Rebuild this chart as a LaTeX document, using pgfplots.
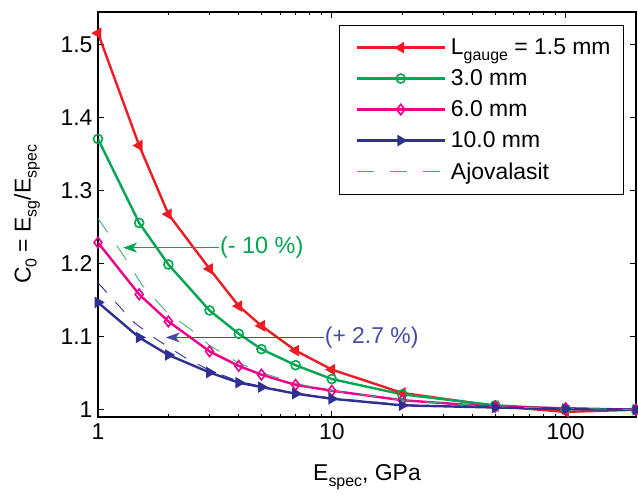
\documentclass[border=0pt]{standalone}
\usepackage{pgfplots}
\pgfplotsset{compat=1.18}
\usepackage{fontspec}
\setmainfont{Liberation Sans}
\usetikzlibrary{arrows.meta,calc}
\definecolor{cred}{RGB}{237,28,36}
\definecolor{cgreen}{RGB}{0,166,81}
\definecolor{cmag}{RGB}{236,0,140}
\definecolor{cblue}{RGB}{46,49,146}
\definecolor{cdgreen}{RGB}{60,180,110}
\definecolor{cablue}{RGB}{70,74,165}
\newcommand{\sub}[1]{\raisebox{-0.5ex}{\fontsize{16}{16}\selectfont #1}}
\begin{document}
\begin{tikzpicture}
\begin{axis}[
  scale only axis, width=538bp, height=405bp,
  xmode=log, xmin=1, xmax=200, ymin=0.99, ymax=1.545,
  xtick={1,10,100}, xticklabels={1,10,100},
  minor xtick={2,3,4,5,6,7,8,9,20,30,40,50,60,70,80,90,200},
  ytick={1,1.1,1.2,1.3,1.4,1.5}, yticklabels={1,1.1,1.2,1.3,1.4,1.5},
  tick align=inside, major tick length=6bp, minor tick length=3.5bp,
  tick style={black, line width=0.8bp},
  axis line style={line width=1.2bp},
  /pgf/number format/assume math mode=true,
  ticklabel style={font=\fontsize{23}{24}\selectfont},
  xticklabel style={yshift=-3bp},
  yticklabel style={xshift=-2bp},
  xlabel={E\sub{spec}, GPa},
  ylabel={C\sub{0} = E\sub{sg}/E\sub{spec}},
  label style={font=\fontsize{23}{25}\selectfont},
  xlabel style={at={(axis description cs:0.5,-0.148)}, anchor=center},
  ylabel style={at={(axis description cs:-0.132,0.5)}, anchor=center},
  legend cell align=left,
  legend style={at={(0.978,0.968)}, anchor=north east, draw=black, line width=1.2bp,
    font=\fontsize{23}{24}\selectfont, inner xsep=8bp, inner ysep=11bp, row sep=8.5bp,
    nodes={inner xsep=5bp, inner ysep=2.5bp}},
  legend image code/.code={\path (0bp,0bp); \draw[mark repeat=2,mark phase=2] plot coordinates {(8bp,0bp) (52bp,0bp) (96bp,0bp)};},
]
\coordinate (sw) at (rel axis cs:0,0);
\coordinate (ne) at (rel axis cs:1,1);
\addplot[cred, line width=2.4bp, mark=triangle*, mark size=5.5bp, mark options={solid, rotate=90, line width=1.2bp}] coordinates {
(1,1.516) (1.5,1.362) (2,1.268) (3,1.193) (4,1.142) (5,1.115) (7,1.081) (10,1.055) (20,1.023) (50,1.005) (100,0.997) (200,1.0)};
\addlegendentry{L\sub{gauge} = 1.5 mm}
\addplot[cgreen, line width=2.4bp, mark=o, mark size=4.5bp, mark options={solid, line width=1.6bp}] coordinates {
(1,1.371) (1.5,1.256) (2,1.199) (3,1.136) (4,1.104) (5,1.083) (7,1.061) (10,1.042) (20,1.021) (50,1.006) (100,1.001) (200,1.0)};
\addlegendentry{3.0 mm}
\addplot[cmag, line width=2.4bp, mark=diamond, mark size=5.3bp, mark options={solid, line width=1.6bp}] coordinates {
(1,1.229) (1.5,1.158) (2,1.121) (3,1.080) (4,1.060) (5,1.048) (7,1.034) (10,1.026) (20,1.013) (50,1.004) (100,1.002) (200,1.0)};
\addlegendentry{6.0 mm}
\addplot[cblue, line width=2.4bp, mark=triangle*, mark size=5.5bp, mark options={solid, rotate=-90, line width=1.2bp}] coordinates {
(1,1.147) (1.5,1.099) (2,1.075) (3,1.051) (4,1.037) (5,1.031) (7,1.022) (10,1.015) (20,1.006) (50,1.003) (100,1.001) (200,1.0)};
\addlegendentry{10.0 mm}
\addplot[cdgreen, line width=0.9bp, dash pattern=on 17bp off 16bp] coordinates {
(1,1.262) (1.27,1.214) (1.55,1.170) (1.94,1.136) (2.56,1.107) (3,1.088) (4,1.064) (5,1.051) (7,1.036) (10,1.026) (20,1.013) (50,1.004) (100,1.002) (200,1.0)};
\addlegendentry{Ajovalasit}
\addplot[cblue, line width=0.9bp, dash pattern=on 13bp off 13bp, forget plot] coordinates {
(1,1.174) (1.42,1.120) (1.75,1.098) (2.34,1.072) (3,1.054) (4,1.039) (5,1.032) (7,1.023) (10,1.016) (20,1.007) (50,1.003) (100,1.001) (200,1.0)};
\draw[cgreen, line width=1.2bp, -{Stealth[length=14bp, width=10bp, inset=4bp]}] (axis cs:3.29,1.222) -- (axis cs:1.28,1.222);
\node[cgreen, anchor=west, inner sep=1bp, font=\fontsize{23.5}{24}\selectfont] at (axis cs:3.29,1.222) {(- 10 \%)};
\draw[cablue, line width=1.2bp, -{Stealth[length=14bp, width=10bp, inset=4bp]}] (axis cs:9.23,1.099) -- (axis cs:1.95,1.099);
\node[cablue, anchor=west, inner sep=1bp, font=\fontsize{23}{24}\selectfont] at (axis cs:9.23,1.099) {(+ 2.7 \%)};
\end{axis}
\pgfresetboundingbox
\path ($(sw)+(-98bp,-79bp)$) rectangle ($(ne)+(2bp,12bp)$);
\end{tikzpicture}
\end{document}
